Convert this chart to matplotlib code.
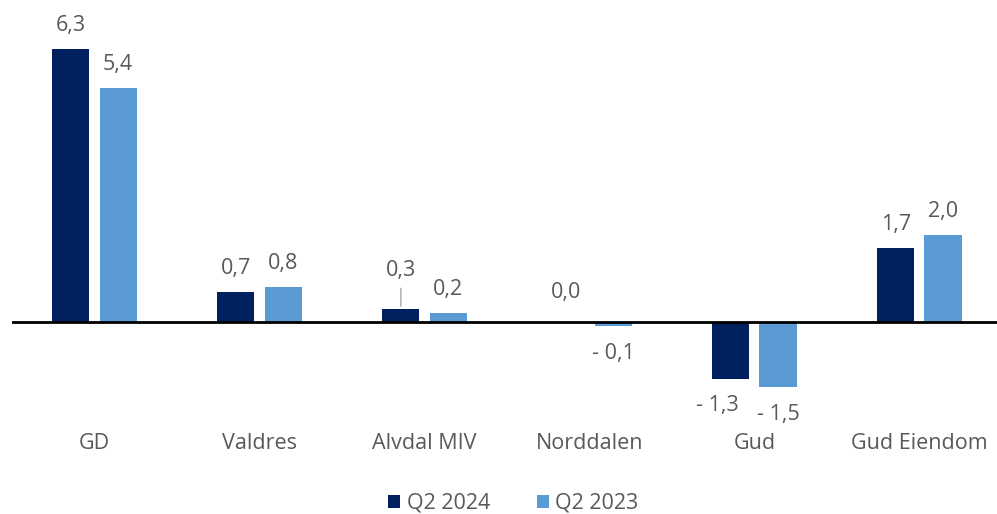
import matplotlib.pyplot as plt
import numpy as np

plt.rcParams['font.family'] = ['Open Sans', 'DejaVu Sans']

# Data
categories = ["GD", "Valdres", "Alvdal MIV", "Norddalen", "Gud", "Gud Eiendom"]
q2_2024 = [6.3, 0.7, 0.3, 0.0, -1.3, 1.7]
q2_2023 = [5.4, 0.8, 0.2, -0.1, -1.5, 2.0]
series_names = ["Q2 2024", "Q2 2023"]

navy = "#002060"
light = "#5B9BD5"
grey = "#595959"
fs = 15.5

def fmt(v):
    s = f"{abs(v):.1f}".replace(".", ",")
    return "- " + s if v < 0 else s

fig = plt.figure(figsize=(9.97, 5.14), dpi=100)
ax = fig.add_axes([12 / 997, 89 / 514, 985 / 997, 415 / 514])

x = np.arange(len(categories))
w = 0.225
off = 0.143
ax.bar(x - off, q2_2024, w, color=navy, label=series_names[0], zorder=2)
ax.bar(x + off, q2_2023, w, color=light, label=series_names[1], zorder=2)
ax.axhline(0, color="black", lw=2, zorder=3)

# value labels (offsets in points)
def label(xpos, v, dy=None, dx=0):
    if dy is None:
        dy = 17 if v >= 0 else -19.5
    ax.annotate(fmt(v), (xpos, v), xytext=(dx, dy), textcoords="offset points",
                ha="center", va="center", fontsize=fs, color=grey)

for i in range(len(categories)):
    a, b = q2_2024[i], q2_2023[i]
    if categories[i] == "Alvdal MIV":
        label(i - off, a, dy=28)
        ax.annotate("", (i - off, a), xytext=(0, 17), textcoords="offset points",
                    arrowprops=dict(arrowstyle="-", color="#A6A6A6", lw=1))
    elif categories[i] == "Gud":
        label(i - off, a, dx=-10)
    elif categories[i] == "Norddalen":
        label(i - off, a, dy=21)
    else:
        label(i - off, a)
    label(i + off, b)

ax.set_xlim(-0.5, 5.47)
ax.set_ylim(-2.37, 7.19)
ax.set_xticks(x)
ax.set_xticklabels(categories, fontsize=fs, color=grey)
ax.tick_params(axis="x", length=0, pad=6)
ax.set_yticks([])
for s in ax.spines.values():
    s.set_visible(False)

fig.legend(loc="lower center", ncol=2, frameon=False, fontsize=fs,
           handlelength=0.55, handleheight=0.55, handletextpad=0.3,
           columnspacing=2.2, labelcolor=grey, bbox_to_anchor=(0.515, -0.037))

fig.savefig("out.png", dpi=100)
